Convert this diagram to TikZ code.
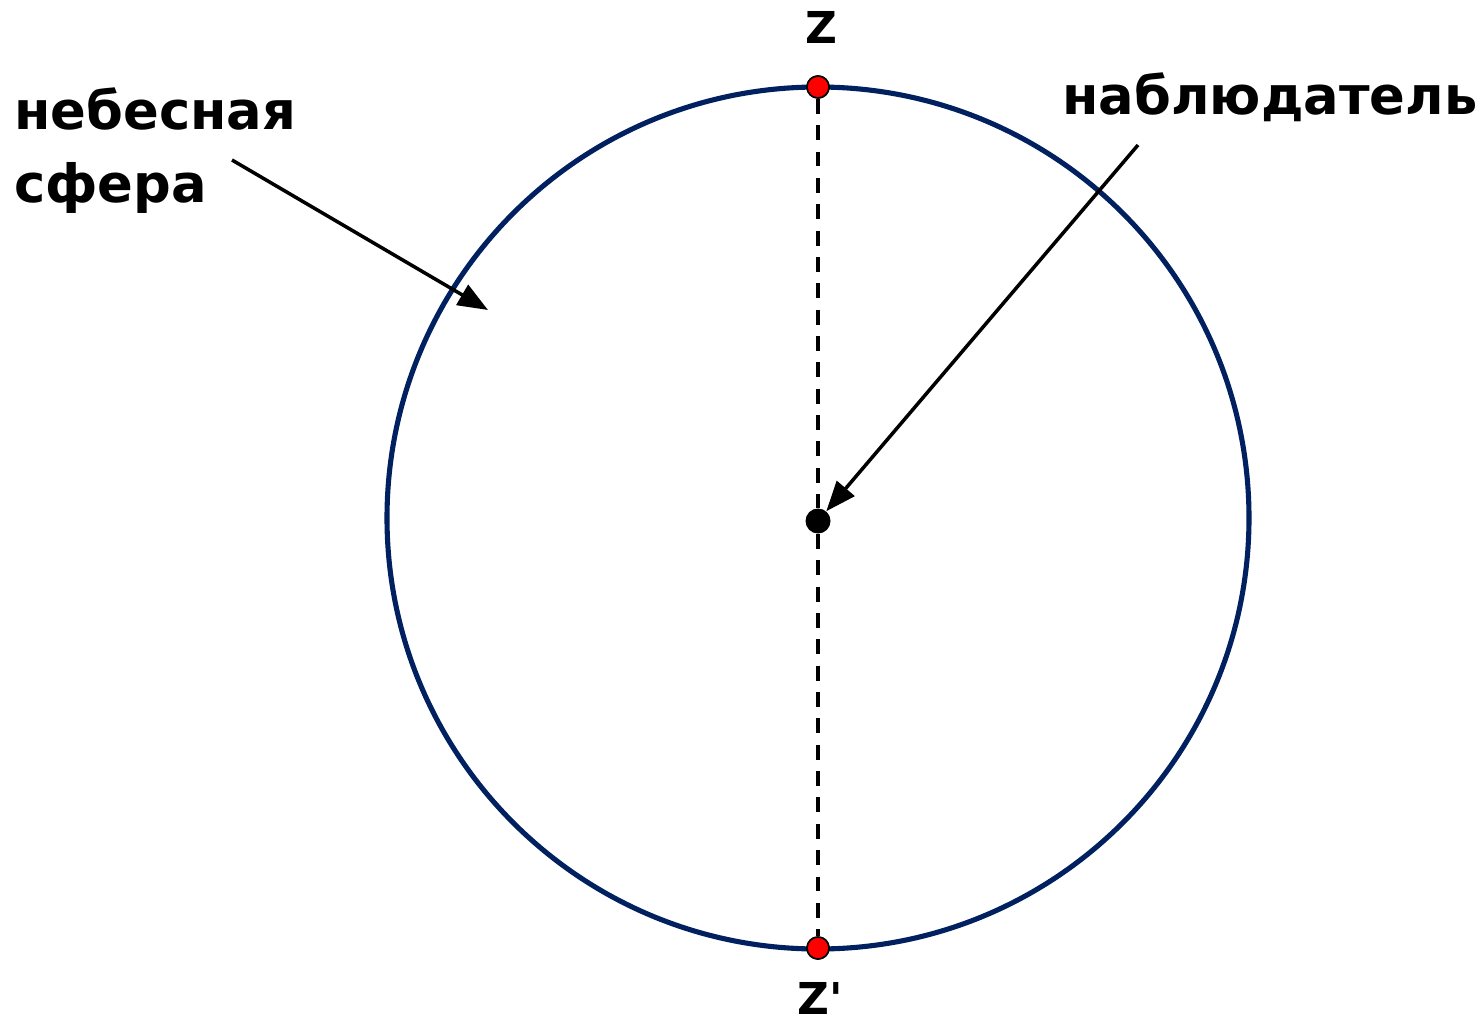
\documentclass[tikz,border=0pt]{standalone}
\usepackage{fontspec}
\newfontfamily\labelfont{DejaVu Sans}
\usepackage{tikz}
\usetikzlibrary{positioning,arrows.meta}
\definecolor{spherenavy}{RGB}{0,32,96}

\begin{document}
\begin{tikzpicture}[
				sphere/.style={draw=spherenavy, line width=2.9pt},
				axis/.style={draw, line width=2pt, dash pattern=on 8.5pt off 6.5pt},
				pole/.style={circle, draw, fill=red, line width=0.9pt, inner sep=0pt, minimum size=0.44cm},
				obsdot/.style={circle, fill=black, inner sep=0pt, minimum size=0.5cm},
				lbl/.style={font=\labelfont\bfseries\fontsize{30}{42}\selectfont, align=left, inner sep=0pt},
				zlbl/.style={font=\labelfont\bfseries\fontsize{25}{30}\selectfont, inner sep=0pt, anchor=base},
				pointer/.style={line width=2pt, -{Triangle[length=0.6cm, width=0.46cm]}}]

			\useasboundingbox (0,0) rectangle (29.62,20.48);

			% celestial sphere
			\draw[sphere] (16.36,10.12) circle (8.62cm);

			\node[pole] (zen) at (16.36,18.74) {};
			\node[pole] (nadir) at (16.36,1.52) {};
			\node[obsdot] (obs) at (16.36,10.06) {};

			\draw[axis] (zen) -- (obs) -- (nadir);
			\node[pole] at (zen) {};
			\node[pole] at (nadir) {};

			\node[zlbl] (zlab) at (16.42,19.6) {Z};
			\node[zlbl] (nlab) at (16.40,0.2) {Z\textquotesingle};

			% labels
			\node[lbl, anchor=base west] (sky) at (0.28,16.42) {небесная\\сфера};
			\node[lbl, anchor=base west] (watcher) at (21.24,18.18) {наблюдатель};

			\coordinate (skytail) at (4.64,17.28);
			\coordinate (skytip) at (9.76,14.28);
			\coordinate (watchtail) at (22.76,17.58);

			\draw[pointer] (skytail) -- (skytip);
			\draw[pointer] (watchtail) -- (obs);

		\end{tikzpicture}
\end{document}
